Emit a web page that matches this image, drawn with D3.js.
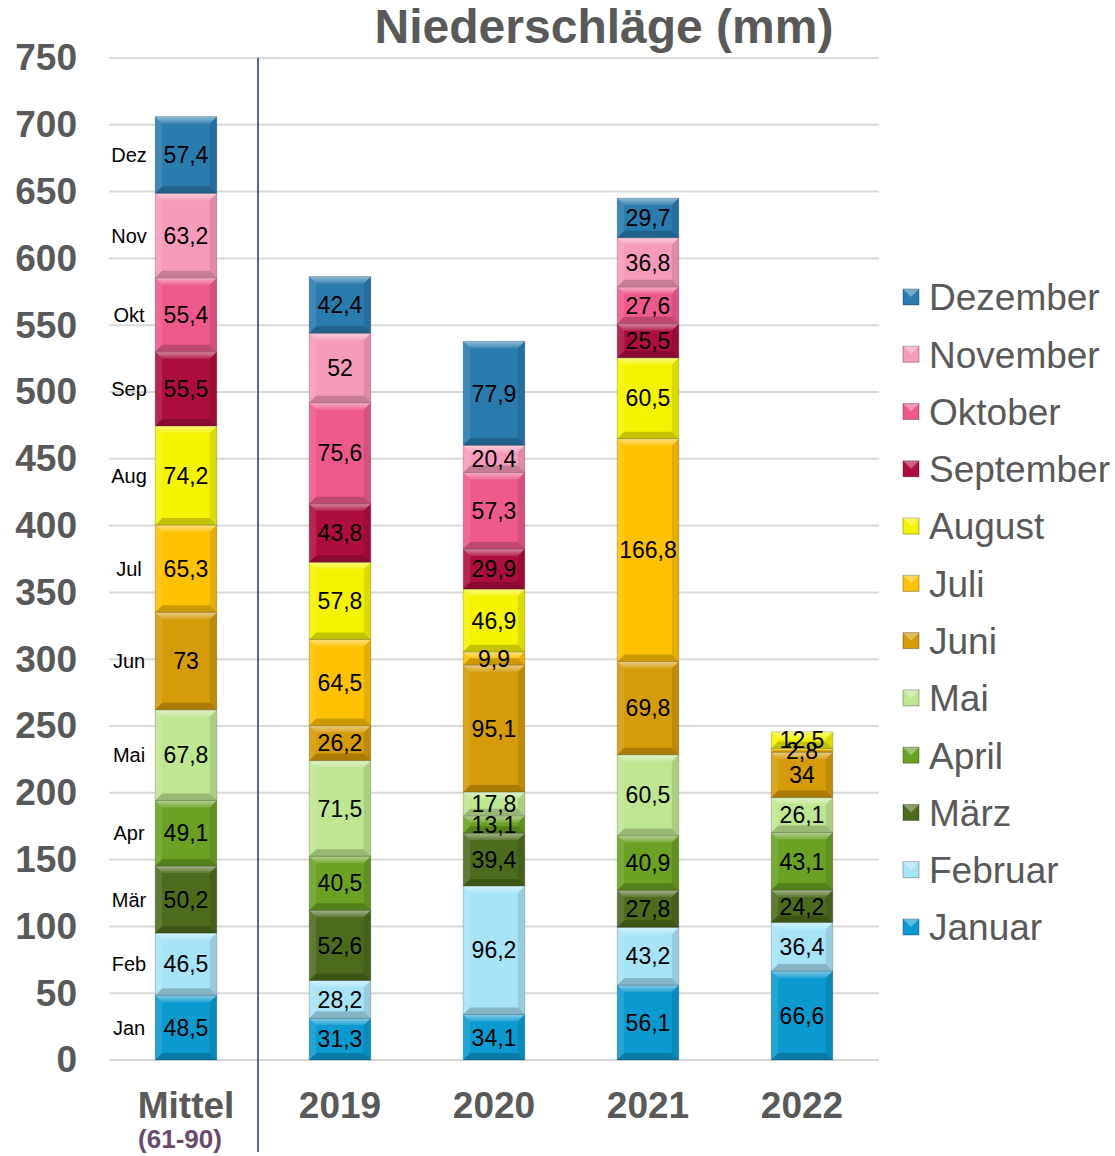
<!DOCTYPE html>
<html><head><meta charset="utf-8">
<script src="https://cdn.jsdelivr.net/npm/d3@7"></script>
<style>body{margin:0;background:#fff;} svg{display:block;font-family:"Liberation Sans",Arial,sans-serif;}</style>
</head><body>
<svg id="c" width="1115" height="1156"></svg>
<script>
const categories = ["Mittel", "2019", "2020", "2021", "2022"];
const months = ["Januar","Februar","März","April","Mai","Juni","Juli","August","September","Oktober","November","Dezember"];
const monthAbbr = ["Jan","Feb","Mär","Apr","Mai","Jun","Jul","Aug","Sep","Okt","Nov","Dez"];
const colors = ["#0b9ad0","#a8e4f8","#4c6b1d","#6ba224","#bfe690","#d59b08","#ffc100","#f4f400","#ad0e3e","#ef5a8c","#f79bba","#2a7bae"];
const valMittel = [48.5,46.5,50.2,49.1,67.8,73,65.3,74.2,55.5,55.4,63.2,57.4];
const val2019 = [31.3,28.2,52.6,40.5,71.5,26.2,64.5,57.8,43.8,75.6,52,42.4];
const val2020 = [34.1,96.2,39.4,13.1,17.8,95.1,9.9,46.9,29.9,57.3,20.4,77.9];
const val2021 = [56.1,43.2,27.8,40.9,60.5,69.8,166.8,60.5,25.5,27.6,36.8,29.7];
const val2022 = [66.6,36.4,24.2,43.1,26.1,34,2.8,12.5,null,null,null,null];
const yTicks = [0,50,100,150,200,250,300,350,400,450,500,550,600,650,700,750];
const title = "Niederschläge (mm)";
const subLabel = "(61-90)";

const series = [valMittel, val2019, val2020, val2021, val2022];
const svg = d3.select("#c");
const x = d3.scaleBand().domain(categories).range([109, 879]).paddingInner(0.6).paddingOuter(0.3);
const y = d3.scaleLinear().domain([0, 750]).range([1060, 58]);
const grey = "#595959";

// gridlines
svg.append("g").selectAll("line").data(yTicks).join("line")
  .attr("x1", 109).attr("x2", 879).attr("y1", d => y(d)).attr("y2", d => y(d))
  .attr("stroke", "#d9d9d9").attr("stroke-width", 2);

// y axis labels
const yAxis = d3.axisLeft(y).tickValues(yTicks).tickSize(0).tickPadding(0);
const gy = svg.append("g").attr("transform", "translate(77,0)").call(yAxis);
gy.select(".domain").remove();
gy.selectAll("text").attr("font-size", 37).attr("font-weight", "bold").attr("fill", grey)
  .attr("font-family", "'Liberation Sans',Arial,sans-serif");

// separator
svg.append("line").attr("x1", 258).attr("x2", 258).attr("y1", y(750)).attr("y2", 1152)
  .attr("stroke", "#1d3c5c").attr("stroke-width", 1.5);

// build stacked data
const segs = [];
series.forEach((vals, ci) => {
  let acc = 0;
  vals.forEach((v, mi) => {
    if (v == null) return;
    segs.push({cat: categories[ci], m: mi, v: v, y0: acc, y1: acc + v});
    acc += v;
  });
});

const defs = svg.append("defs");
const tg = defs.append("linearGradient").attr("id", "topg").attr("x1", 0).attr("y1", 0).attr("x2", 0).attr("y2", 1);
tg.append("stop").attr("offset", 0).attr("stop-color", "#fff").attr("stop-opacity", 0.5);
tg.append("stop").attr("offset", 1).attr("stop-color", "#fff").attr("stop-opacity", 0.1);

const bars = svg.append("g");
segs.forEach(s => {
  const x0 = x(s.cat), w = x.bandwidth(), x1 = x0 + w;
  const top = y(s.y1), bot = y(s.y0), h = bot - top;
  const b = Math.min(7, h / 2);
  const g = bars.append("g");
  g.append("rect").attr("x", x0).attr("y", top).attr("width", w).attr("height", h).attr("fill", colors[s.m]);
  // bevel
  g.append("polygon").attr("points", [[x0,top],[x1,top],[x1-b,top+b],[x0+b,top+b]].join(" "))
    .attr("fill", "url(#topg)");
  g.append("polygon").attr("points", [[x0,bot],[x1,bot],[x1-b,bot-b],[x0+b,bot-b]].join(" "))
    .attr("fill", "#000").attr("opacity", 0.2);
  g.append("polygon").attr("points", [[x0,top],[x0+b,top+b],[x0+b,bot-b],[x0,bot]].join(" "))
    .attr("fill", "#fff").attr("opacity", 0.1);
  g.append("polygon").attr("points", [[x1,top],[x1-b,top+b],[x1-b,bot-b],[x1,bot]].join(" "))
    .attr("fill", "#000").attr("opacity", 0.1);
  g.append("rect").attr("x", x0).attr("y", top).attr("width", w).attr("height", h)
    .attr("fill", "none").attr("stroke", "#000").attr("stroke-opacity", 0.18).attr("stroke-width", 1);
});

// value labels
svg.append("g").selectAll("text").data(segs).join("text")
  .attr("x", d => x(d.cat) + x.bandwidth() / 2)
  .attr("y", d => y((d.y0 + d.y1) / 2))
  .attr("dy", "0.36em").attr("text-anchor", "middle")
  .attr("font-size", 23).attr("fill", "#000")
  .text(d => String(d.v).replace(".", ","));

// month abbreviations next to Mittel
const mSegs = segs.filter(d => d.cat === "Mittel");
svg.append("g").selectAll("text").data(mSegs).join("text")
  .attr("x", 129).attr("y", d => y((d.y0 + d.y1) / 2)).attr("dy", "0.36em")
  .attr("text-anchor", "middle").attr("font-size", 20).attr("fill", "#000")
  .text(d => monthAbbr[d.m]);

// x labels
const xAxis = d3.axisBottom(x).tickSize(0).tickPadding(0);
const gx = svg.append("g").attr("transform", "translate(0,1118)").call(xAxis);
gx.select(".domain").remove();
gx.selectAll("text").attr("dy", 0).attr("font-size", 37).attr("font-weight", "bold").attr("fill", grey)
  .attr("font-family", "'Liberation Sans',Arial,sans-serif");
svg.append("text").attr("x", x("Mittel") + x.bandwidth() / 2 - 6).attr("y", 1148)
  .attr("text-anchor", "middle").attr("font-size", 26).attr("font-weight", "bold").attr("fill", "#6a4a6c")
  .text(subLabel);

// title
svg.append("text").attr("x", 604).attr("y", 43).attr("text-anchor", "middle")
  .attr("font-size", 48).attr("font-weight", "bold").attr("fill", grey).text(title);

// legend
const ly = d3.scalePoint().domain(d3.range(11, -1, -1)).range([297, 927]);
const lg = svg.append("g");
d3.range(12).forEach(i => {
  const cy = ly(i);
  const g = lg.append("g");
  g.append("rect").attr("x", 903).attr("y", cy - 8).attr("width", 16).attr("height", 16).attr("fill", colors[i])
    .attr("stroke", "#000").attr("stroke-opacity", 0.3);
  g.append("polygon").attr("points", [[903,cy-8],[919,cy-8],[911,cy]].join(" ")).attr("fill", "#fff").attr("opacity", 0.35);
  g.append("text").attr("x", 929).attr("y", cy).attr("dy", "0.36em").attr("font-size", 37).attr("fill", grey).text(months[i]);
});
</script>
</body></html>
